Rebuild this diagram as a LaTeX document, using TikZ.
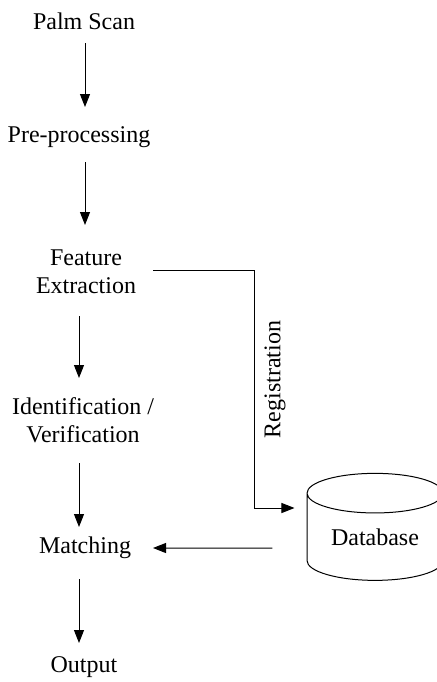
\documentclass[tikz,border=0pt]{standalone}
\usepackage{fontspec}
\setmainfont{Liberation Serif}
\usetikzlibrary{arrows.meta,shapes.geometric}
\pgfdeclarelayer{nodelayer}
\pgfdeclarelayer{edgelayer}
\pgfsetlayers{edgelayer,nodelayer,main}
\tikzstyle{stage}=[fill=none, draw=none, align=center, inner sep=0pt, font=\fontsize{12}{14}\selectfont]
\tikzstyle{store}=[fill=white, draw=black, shape=cylinder, shape border rotate=90, aspect=0.45, minimum width=68pt, minimum height=53.5pt, inner sep=0pt, line width=0.5pt, font=\fontsize{12}{14}\selectfont]
\tikzstyle{flow edge}=[draw=black, line width=0.5pt, -{Triangle[length=6.5pt, width=5pt]}]
\tikzstyle{side label}=[rotate=90, anchor=north, inner sep=5pt, font=\fontsize{12}{14}\selectfont]

\begin{document}
\begin{tikzpicture}[x=0.5pt, y=-0.5pt]
	\useasboundingbox (0, 0) rectangle (437, 682);
	\begin{pgfonlayer}{nodelayer}
		\node [style=stage] (0) at (84, 21) {Palm Scan};
		\node [style=stage] (1) at (79, 137) {Pre-processing};
		\node [style=stage] (2) at (86, 272) {Feature\\Extraction};
		\node [style=stage] (3) at (83, 420) {Identification /\\Verification};
		\node [style=stage] (4) at (85, 548) {Matching};
		\node [style=stage] (5) at (84, 667) {Output};
		\node [style=store] (6) at (375, 537) {Database};
	\end{pgfonlayer}
	\begin{pgfonlayer}{edgelayer}
		\draw [style=flow edge] ([shift={(1, 22)}]0.center) to ([shift={(6, -30)}]1.center);
		\draw [style=flow edge] ([shift={(6, 25)}]1.center) to ([shift={(-1, -47)}]2.center);
		\draw [style=flow edge] ([shift={(-7, 44)}]2.center) to ([shift={(-4, -42)}]3.center);
		\draw [style=flow edge] ([shift={(-4, 43)}]3.center) to ([shift={(-6, -21)}]4.center);
		\draw [style=flow edge] ([shift={(-6, 31)}]4.center) to ([shift={(-5, -24)}]5.center);
		\draw [style=flow edge] ([shift={(67, -2)}]2.center) -- ++(101, 0) |- node [style=side label, pos=0.23] (7) {Registration} ([shift={(-12, -29)}]6.west);
		\draw [style=flow edge] ([shift={(-34, 11)}]6.west) to ([shift={(68, 0)}]4.center);
	\end{pgfonlayer}
\end{tikzpicture}
\end{document}
